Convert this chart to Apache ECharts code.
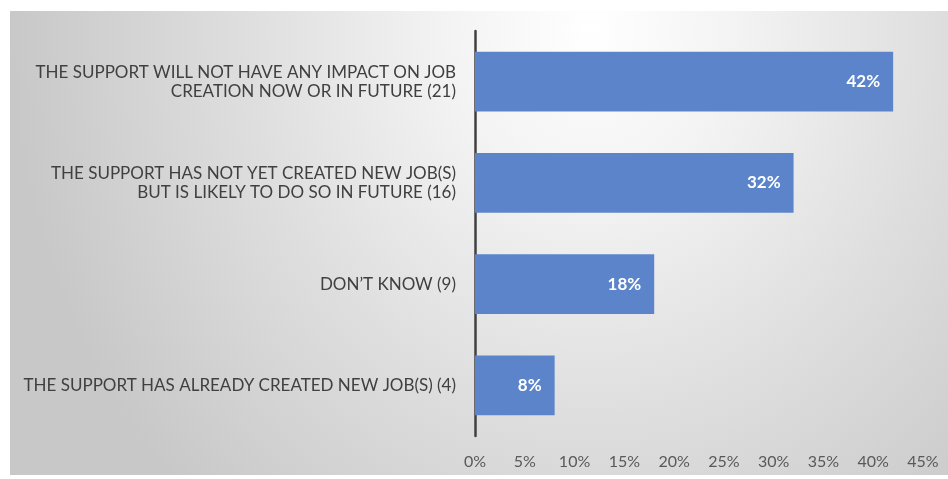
<!DOCTYPE html>
<html>
<head>
<meta charset="utf-8">
<style>
  html, body { margin: 0; padding: 0; background: #ffffff; }
  #chart {
    position: absolute; left: 10px; top: 11px; width: 938px; height: 464px;
    background: radial-gradient(ellipse 62% 140% at 62% 4%, #ffffff 0%, #f3f3f3 25%, #dedede 60%, #c8c8c8 100%);
  }
</style>
<script src="https://cdn.jsdelivr.net/npm/echarts@6/dist/echarts.min.js"></script>
</head>
<body>
<div id="chart"></div>
<script>
// Survey responses on job creation, share of respondents
const categories = [
  'THE SUPPORT WILL NOT HAVE ANY IMPACT ON JOB\nCREATION NOW OR IN FUTURE (21)',
  'THE SUPPORT HAS NOT YET CREATED NEW JOB(S)\nBUT IS LIKELY TO DO SO IN FUTURE (16)',
  'DON\u2019T KNOW (9)',
  'THE SUPPORT HAS ALREADY CREATED NEW JOB(S) (4)'
];
const shares = [42, 32, 18, 8];
const tickLabels = ['0%', '5%', '10%', '15%', '20%', '25%', '30%', '35%', '40%', '45%'];

const chart = echarts.init(document.getElementById('chart'));
chart.setOption({
  backgroundColor: 'transparent',
  animation: false,
  textStyle: { fontFamily: 'Lato, "Open Sans", sans-serif' },
  grid: { left: 465, right: 25, top: 20, bottom: 39 },
  xAxis: {
    type: 'value', min: 0, max: 45, interval: 5,
    axisLine: { show: false }, axisTick: { show: false }, splitLine: { show: false },
    axisLabel: {
      color: '#595959', fontSize: 16, margin: 18,
      formatter: v => tickLabels[Math.round(v / 5)]
    }
  },
  yAxis: {
    type: 'category', data: categories, inverse: true,
    axisLine: { show: true, lineStyle: { color: '#404040', width: 2.5 } },
    axisTick: { show: false },
    axisLabel: {
      color: '#404040', fontSize: 17, margin: 19, lineHeight: 19, align: 'right'
    }
  },
  series: [{
    type: 'bar', data: shares, barCategoryGap: '41%',
    itemStyle: { color: '#5b84ca' },
    label: {
      show: true, position: 'insideRight', distance: 13,
      color: '#ffffff', fontWeight: 'bold', fontSize: 17,
      formatter: p => p.value + '%'
    }
  }]
});
</script>
</body>
</html>
